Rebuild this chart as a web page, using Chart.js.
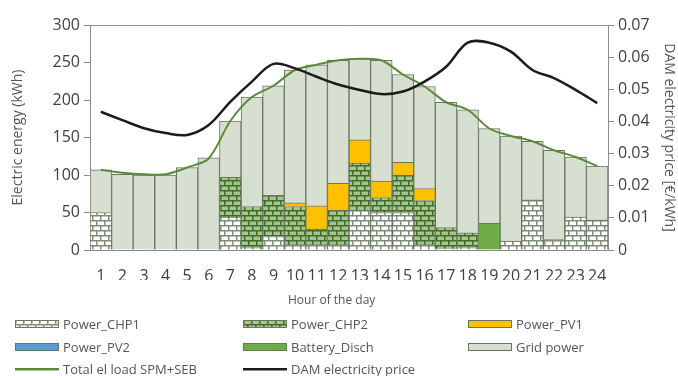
<!DOCTYPE html>
<html>
<head>
<meta charset="utf-8">
<script src="https://cdn.jsdelivr.net/npm/chart.js@4.4.1/dist/chart.umd.min.js"></script>
<style>
  body { margin: 0; background: #fff; font-family: "Open Sans", sans-serif; }
  #wrap { position: relative; width: 678px; height: 376px; }
  #chart { position: absolute; left: 0; top: 0; }
  .xt { position: absolute; top: 291px; left: 288px; font-size: 12px; color: #555; }
  .lg { position: absolute; height: 16px; font-size: 13px; color: #555; display: flex; align-items: center; white-space: nowrap; }
  .lg canvas { margin-right: 4px; }
</style>
</head>
<body>
<div id="wrap">
  <canvas id="chart" width="678" height="376"></canvas>
  <div class="xt">Hour of the day</div>
  <div id="legend"></div>
</div>
<script>
// Hourly energy mix (kWh) and day-ahead price
const hours = ['1','2','3','4','5','6','7','8','9','10','11','12','13','14','15','16','17','18','19','20','21','22','23','24'];
const chp1 = [50, 0, 0, 0, 0, 0, 44, 3, 18, 8, 8, 8, 53, 50, 50, 8, 2, 3, 0, 12, 67, 14, 44, 40];
const chp2 = [0, 0, 0, 0, 0, 0, 53, 55, 55, 50, 20, 45, 63, 20, 50, 58, 28, 20, 0, 0, 0, 0, 0, 0];
const pv1 = [0, 0, 0, 0, 0, 0, 0, 0, 0, 5, 31, 36, 31, 22, 17, 16, 0, 0, 0, 0, 0, 0, 0, 0];
const pv2 = [0, 0, 0, 0, 0, 0, 0, 0, 0, 0, 0, 0, 0, 0, 0, 0, 0, 0, 0, 0, 0, 0, 0, 0];
const battery = [0, 0, 0, 0, 0, 0, 0, 0, 0, 0, 0, 0, 0, 0, 0, 0, 0, 0, 36, 0, 0, 0, 0, 0];
const grid = [57, 101, 100, 100, 110, 123, 75, 146, 146, 177, 188, 164, 108, 161, 117, 136, 167, 164, 126, 140, 78, 119, 80, 72];
const totalLoad = [107, 103, 101, 101, 110, 122, 172, 204, 219, 240, 247, 253, 255, 253, 234, 218, 197, 187, 162, 152, 145, 133, 124, 112];
const damPrice = [0.0430, 0.0404, 0.0379, 0.0364, 0.0358, 0.0389, 0.0461, 0.0524, 0.0579, 0.0565, 0.0539, 0.0515,
                  0.0498, 0.0485, 0.0493, 0.0524, 0.0570, 0.0645, 0.0645, 0.0617, 0.0560, 0.0535, 0.0498, 0.0457];

// Excel-like horizontal brick fill
function brick(fg, bg) {
  const c = document.createElement('canvas');
  c.width = 8; c.height = 10;
  const g = c.getContext('2d');
  g.fillStyle = bg; g.fillRect(0, 0, 8, 10);
  g.fillStyle = fg;
  g.fillRect(0, 0, 8, 1.5); g.fillRect(0, 5, 8, 1.5);
  g.fillRect(0, 1, 1.5, 4); g.fillRect(4, 6, 1.5, 4);
  return g.createPattern(c, 'repeat');
}
const chp1Fill = brick('#7f8c7a', '#ffffff');
const chp2Fill = brick('#3f6e2a', '#a9c48f');
const edge = '#66765f';
const axisFont = { family: 'Open Sans', size: 16 };

const ctx = document.getElementById('chart');
new Chart(ctx, {
  data: {
    labels: hours,
    datasets: [
      { type: 'line', label: 'DAM electricity price', data: damPrice, yAxisID: 'y1', order: 0,
        borderColor: '#1c1c1c', borderWidth: 2.5, pointRadius: 0, tension: 0.35, fill: false },
      { type: 'line', label: 'Total el load SPM+SEB', data: totalLoad, yAxisID: 'y', order: 1,
        borderColor: '#5b8a3c', borderWidth: 2, pointRadius: 0, tension: 0.3, fill: false },
      { type: 'bar', label: 'Power_CHP1', data: chp1, order: 2, backgroundColor: chp1Fill, borderColor: edge, borderWidth: 1 },
      { type: 'bar', label: 'Power_CHP2', data: chp2, order: 2, backgroundColor: chp2Fill, borderColor: edge, borderWidth: 1 },
      { type: 'bar', label: 'Power_PV1', data: pv1, order: 2, backgroundColor: '#ffc000', borderColor: edge, borderWidth: 1 },
      { type: 'bar', label: 'Power_PV2', data: pv2, order: 2, backgroundColor: '#5b9bd5', borderColor: edge, borderWidth: 1 },
      { type: 'bar', label: 'Battery_Disch', data: battery, order: 2, backgroundColor: '#70ad47', borderColor: edge, borderWidth: 1 },
      { type: 'bar', label: 'Grid power', data: grid, order: 2, backgroundColor: '#d7dfd1', borderColor: edge, borderWidth: 1 }
    ]
  },
  options: {
    responsive: false,
    animation: false,
    layout: { padding: { top: 25, bottom: 96, left: 0, right: 0 } },
    datasets: { bar: { categoryPercentage: 1, barPercentage: 1 } },
    plugins: { legend: { display: false }, tooltip: { enabled: false } },
    scales: {
      x: {
        stacked: true,
        grid: { display: false },
        border: { color: '#8c8c8c' },
        ticks: { autoSkip: false, maxRotation: 0, padding: 9, color: '#404040', font: axisFont },
        afterFit: s => { s.height = 30; }
      },
      y: {
        stacked: true, min: 0, max: 300,
        ticks: { stepSize: 50, padding: 4, color: '#404040', font: axisFont },
        grid: { color: c => c.tick && c.tick.value === 300 ? '#8c8c8c' : 'rgba(0,0,0,0)', tickColor: '#8c8c8c', tickLength: 6 },
        border: { color: '#8c8c8c' },
        title: { display: true, text: 'Electric energy (kWh)', color: '#555', font: { family: 'Open Sans', size: 14 }, padding: { top: 10, bottom: 0 } },
        afterFit: s => { s.width = 90; }
      },
      y1: {
        position: 'right', min: 0, max: 0.07,
        ticks: { stepSize: 0.01, padding: 4, color: '#404040', font: axisFont,
                 callback: v => v === 0 ? '0' : v.toFixed(2) },
        grid: { drawOnChartArea: false, color: '#8c8c8c', tickLength: 6 },
        border: { color: '#8c8c8c' },
        title: { display: true, text: 'DAM electricity price [€/kWh]', color: '#555', font: { family: 'Open Sans', size: 14 }, padding: { top: 1, bottom: 0 } },
        afterFit: s => { s.width = 70; }
      }
    }
  }
});

// Legend, three columns like the original
const legendItems = [
  { text: 'Power_CHP1', fill: chp1Fill, x: 15, y: 316 },
  { text: 'Power_CHP2', fill: chp2Fill, x: 243, y: 316 },
  { text: 'Power_PV1', fill: '#ffc000', x: 468, y: 316 },
  { text: 'Power_PV2', fill: '#5b9bd5', x: 15, y: 339 },
  { text: 'Battery_Disch', fill: '#70ad47', x: 243, y: 339 },
  { text: 'Grid power', fill: '#d7dfd1', x: 468, y: 339 },
  { text: 'Total el load SPM+SEB', line: '#5b8a3c', x: 15, y: 361 },
  { text: 'DAM electricity price', line: '#1c1c1c', x: 243, y: 361 }
];
const legendEl = document.getElementById('legend');
legendItems.forEach(it => {
  const d = document.createElement('div');
  d.className = 'lg';
  d.style.left = it.x + 'px';
  d.style.top = it.y + 'px';
  const sw = document.createElement('canvas');
  sw.width = 44; sw.height = 10;
  const g = sw.getContext('2d');
  if (it.line) {
    g.fillStyle = it.line;
    g.fillRect(0, 4, 44, 2.5);
  } else {
    g.fillStyle = it.fill;
    g.fillRect(0, 1, 44, 8);
    g.strokeStyle = edge; g.lineWidth = 1;
    g.strokeRect(0.5, 1.5, 43, 7);
  }
  d.appendChild(sw);
  const t = document.createElement('span');
  t.textContent = it.text;
  d.appendChild(t);
  legendEl.appendChild(d);
});
</script>
</body>
</html>
